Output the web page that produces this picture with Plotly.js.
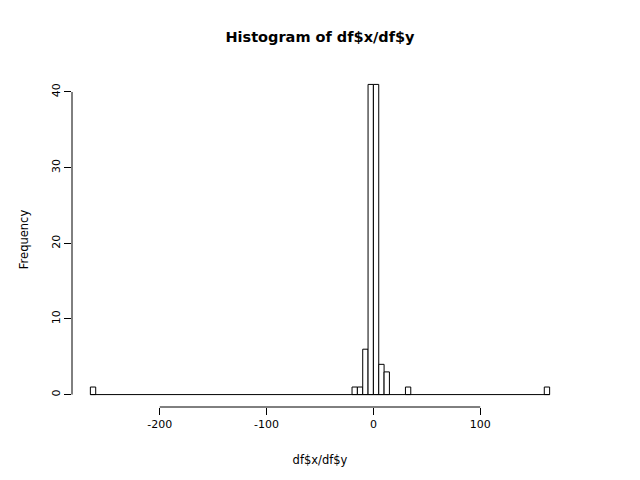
<!DOCTYPE html>
<html>
<head>
<meta charset="utf-8">
<script src="https://cdn.plot.ly/plotly-3.0.1.min.js"></script>
<style>html,body{margin:0;padding:0;background:#fff;}#chart{width:640px;height:480px;}</style>
</head>
<body>
<div id="chart"></div>
<script>
// Histogram data (bin width 5), non-empty bins only
const binWidth = 5;
const binLeft = [-265, -20, -15, -10, -5, 0, 5, 10, 30, 160];
const counts  = [1, 1, 1, 6, 41, 41, 4, 3, 1, 1];
const xTicks = [-200, -100, 0, 100];
const yTicks = [0, 10, 20, 30, 40];

const binCenters = binLeft.map(v => v + binWidth / 2);
const firstEdge = Math.min(...binLeft);
const lastEdge = Math.max(...binLeft) + binWidth;

const xPad = 0.04 * (lastEdge - firstEdge);
const yMax = Math.max(...counts);
const yPad = 0.04 * yMax;

const font = 'DejaVu Sans, Verdana, sans-serif';

const traces = [
  {
    type: 'scatter', mode: 'lines',
    x: [firstEdge, lastEdge], y: [0, 0],
    line: {color: '#000', width: 1},
    hoverinfo: 'skip', showlegend: false
  },
  {
    type: 'bar',
    x: binCenters, y: counts,
    width: binLeft.map(() => binWidth),
    marker: {color: '#ffffff', line: {color: '#000000', width: 1}},
    showlegend: false
  }
];

const layout = {
  width: 640, height: 480,
  paper_bgcolor: '#fff', plot_bgcolor: '#fff',
  margin: {l: 72, r: 72, t: 72, b: 73, pad: 0},
  font: {family: font, size: 11, color: '#000'},
  title: {
    text: '<b>Histogram of df$x/df$y</b>',
    font: {family: font, size: 14.5, color: '#000'},
    x: 0.5, xanchor: 'center', y: 1 - 37 / 480, yanchor: 'middle', yref: 'container'
  },
  bargap: 0,
  xaxis: {
    range: [firstEdge - xPad, lastEdge + xPad],
    tickmode: 'array', tickvals: xTicks, ticktext: xTicks.map(String),
    ticks: 'outside', ticklen: 7, tickwidth: 1, tickcolor: '#000',
    showgrid: false, zeroline: false, showline: false,
    tickfont: {family: font, size: 11, color: '#000'},
    title: {text: 'df$x/df$y', font: {family: font, size: 11.5, color: '#000'}, standoff: 25}
  },
  yaxis: {
    range: [-yPad, yMax + yPad],
    tickmode: 'array', tickvals: yTicks, ticktext: yTicks.map(String),
    ticks: 'outside', ticklen: 7, tickwidth: 1, tickcolor: '#000',
    tickangle: -90,
    showgrid: false, zeroline: false, showline: false,
    tickfont: {family: font, size: 11, color: '#000'},
    title: {text: 'Frequency', font: {family: font, size: 11.5, color: '#000'}, standoff: 18}
  },
  shapes: [
    {type: 'line', xref: 'x', yref: 'paper', x0: xTicks[0], x1: xTicks[xTicks.length - 1], y0: 0, y1: 0,
     line: {color: '#000', width: 1}},
    {type: 'line', xref: 'paper', yref: 'y', x0: 0, x1: 0, y0: yTicks[0], y1: yTicks[yTicks.length - 1],
     line: {color: '#000', width: 1}}
  ]
};

Plotly.newPlot('chart', traces, layout, {displayModeBar: false, staticPlot: true});
</script>
</body>
</html>
